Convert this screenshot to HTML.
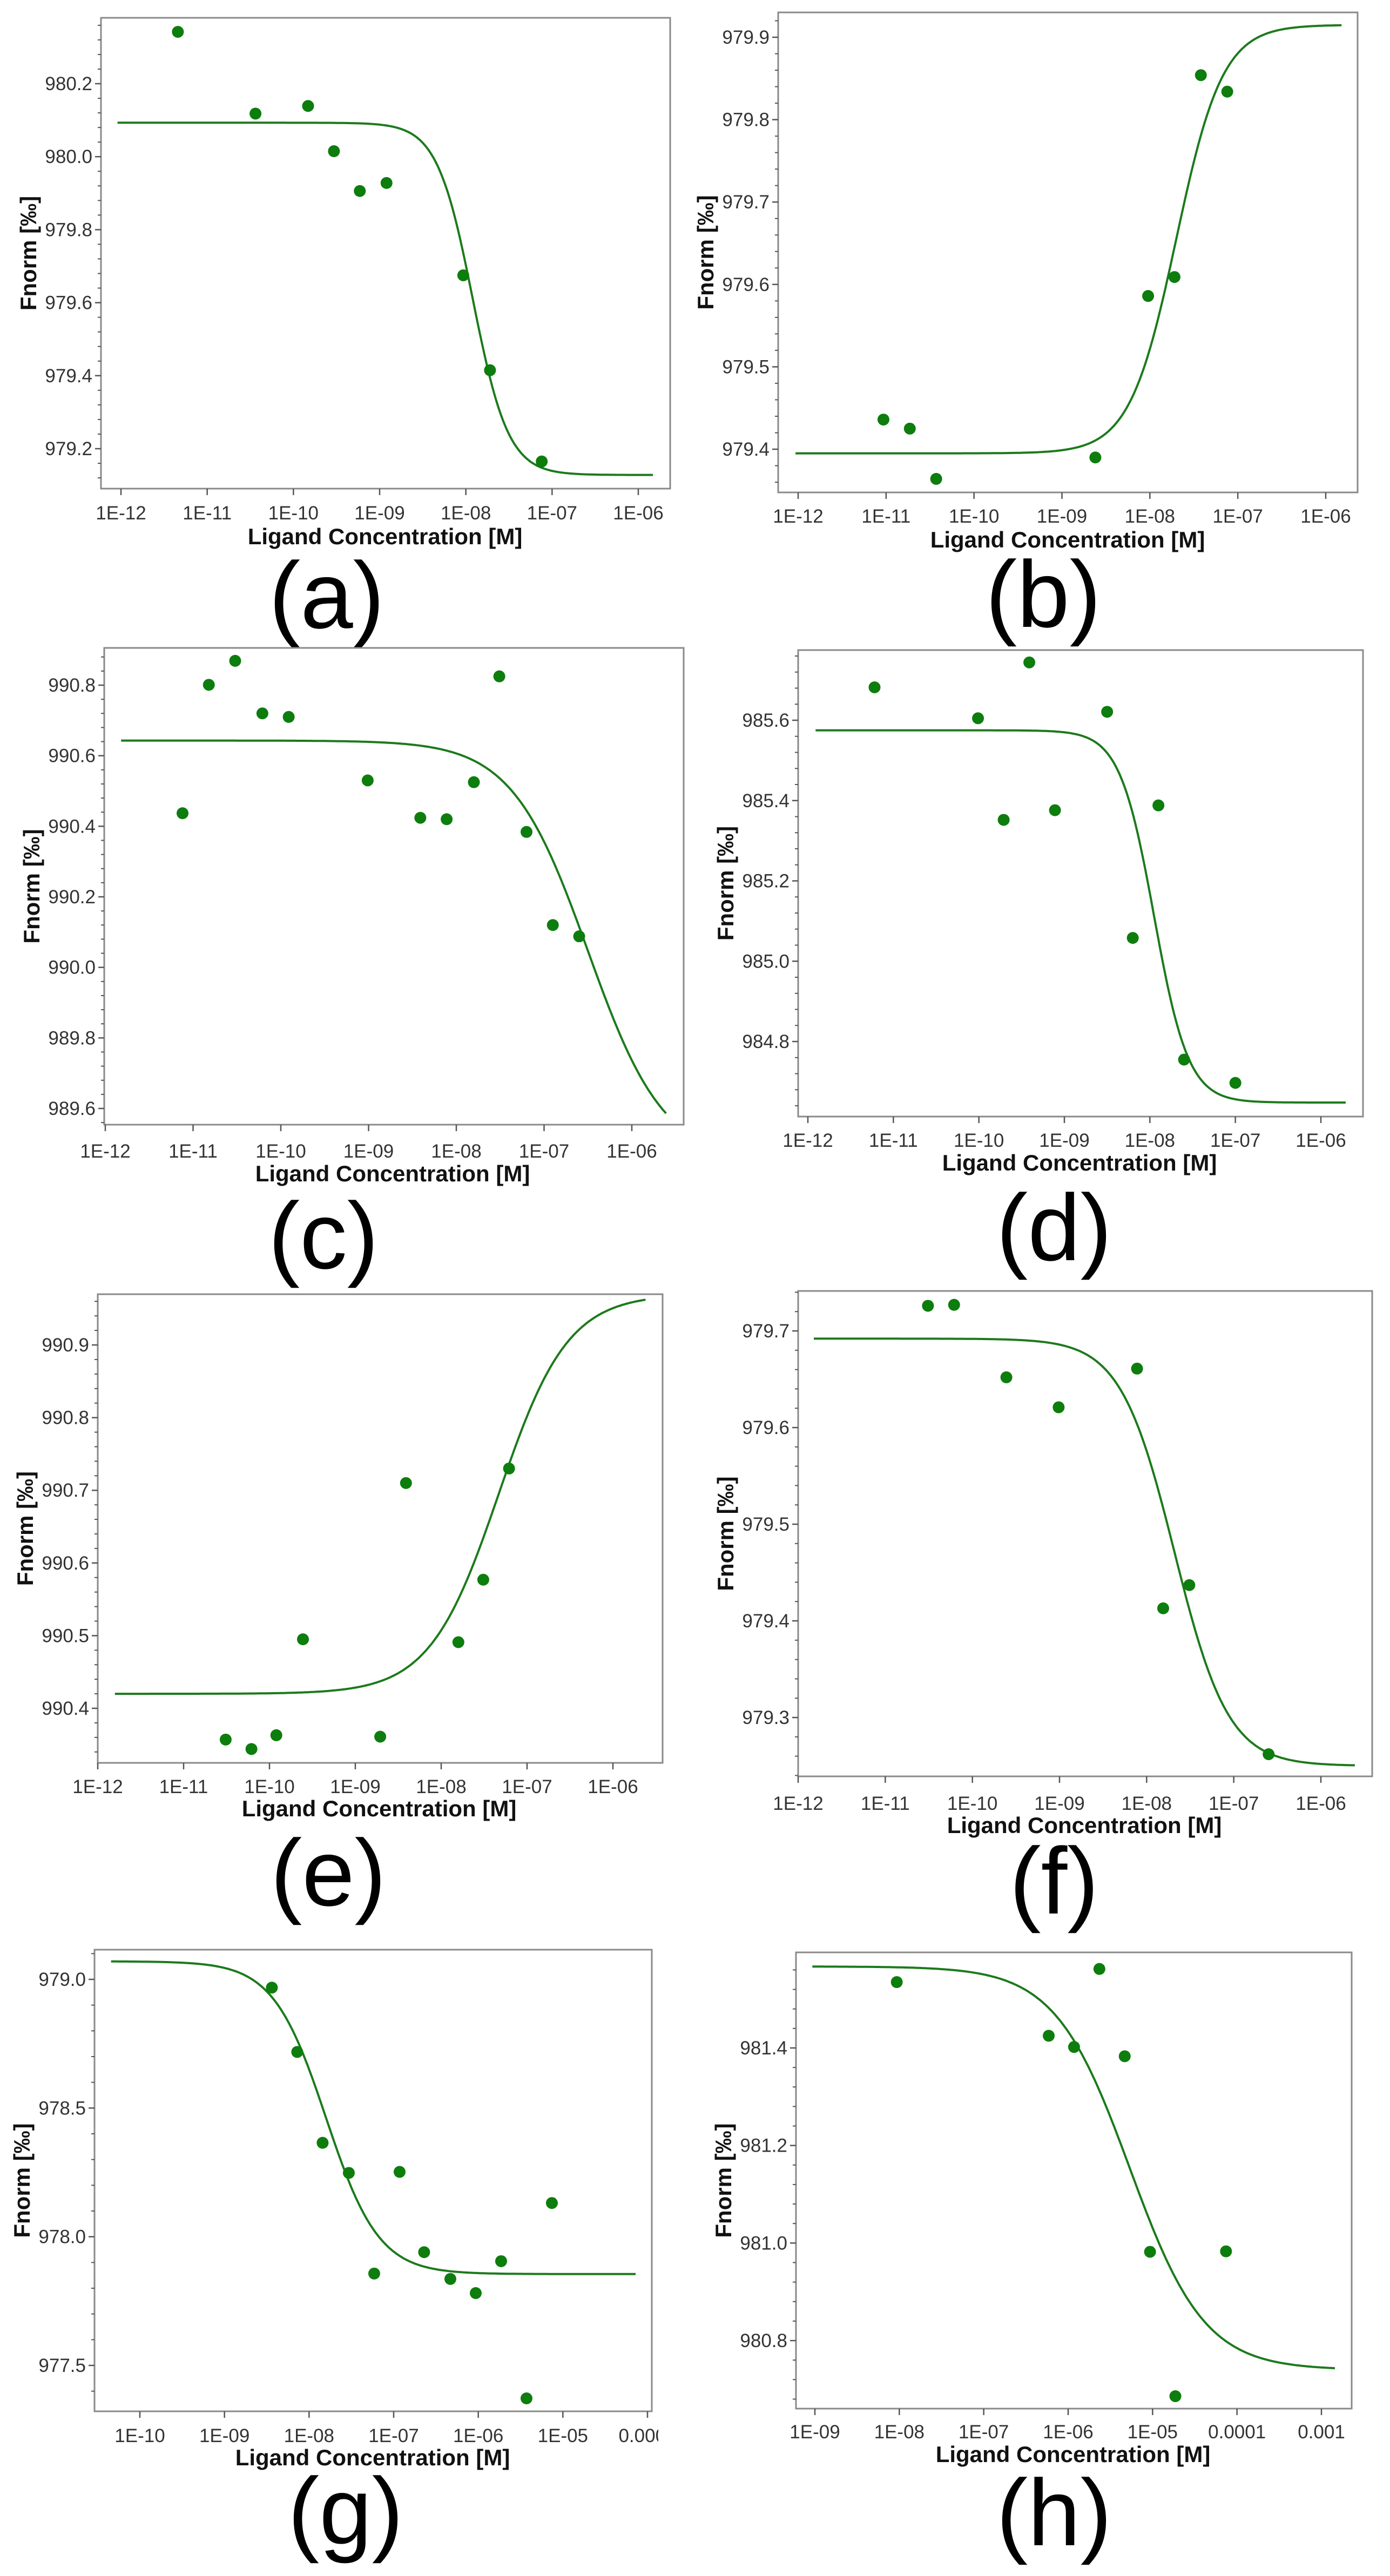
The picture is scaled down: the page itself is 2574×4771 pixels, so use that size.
<!DOCTYPE html>
<html><head><meta charset="utf-8">
<style>
html,body{margin:0;padding:0;background:#fff;}
svg{display:block;}
text{font-family:"Liberation Sans","DejaVu Sans",sans-serif;}
</style></head>
<body>
<svg id="fig" width="2574" height="4771" viewBox="0 0 2574 4771" xmlns="http://www.w3.org/2000/svg"></svg>
<script>
// ---- data ----
const aLogConc = [-11.34,-10.44,-9.83,-9.53,-9.23,-8.92,-8.03,-7.72,-7.12];
const aFnorm   = [980.342,980.118,980.139,980.015,979.906,979.928,979.675,979.415,979.165];
const aYTicks  = [979.2,979.4,979.6,979.8,980.0,980.2];
const aXLabels = ["1E-12","1E-11","1E-10","1E-09","1E-08","1E-07","1E-06"];
const aFit     = [980.093,979.128,-7.92,2.1,-12.04,-5.83];

const bLogConc = [-11.03,-10.73,-10.43,-8.62,-8.02,-7.72,-7.42,-7.12];
const bFnorm   = [979.436,979.425,979.364,979.390,979.586,979.609,979.854,979.834];
const bYTicks  = [979.4,979.5,979.6,979.7,979.8,979.9];
const bXLabels = ["1E-12","1E-11","1E-10","1E-09","1E-08","1E-07","1E-06"];
const bFit     = [979.395,979.915,-7.70,1.64,-12.03,-5.82];

const cLogConc = [-11.12,-10.82,-10.52,-10.21,-9.91,-9.01,-8.41,-8.11,-7.80,-7.51,-7.20,-6.90,-6.60];
const cFnorm   = [990.437,990.801,990.869,990.720,990.710,990.530,990.424,990.420,990.525,990.825,990.384,990.120,990.088];
const cYTicks  = [989.6,989.8,990.0,990.2,990.4,990.6,990.8];
const cXLabels = ["1E-12","1E-11","1E-10","1E-09","1E-08","1E-07","1E-06"];
const cFit     = [990.643,989.45,-6.5,1.0,-11.82,-5.61];

const dLogConc = [-11.22,-10.01,-9.71,-9.41,-9.11,-8.50,-8.20,-7.90,-7.60,-7.00];
const dFnorm   = [985.682,985.605,985.352,985.744,985.376,985.621,985.058,985.388,984.755,984.697];
const dYTicks  = [984.8,985.0,985.2,985.4,985.6];
const dXLabels = ["1E-12","1E-11","1E-10","1E-09","1E-08","1E-07","1E-06"];
const dFit     = [985.575,984.648,-7.95,2.16,-11.91,-5.71];

const eLogConc = [-10.51,-10.21,-9.92,-9.61,-8.71,-8.41,-7.80,-7.51,-7.21];
const eFnorm   = [990.357,990.344,990.363,990.495,990.361,990.710,990.491,990.577,990.730];
const eYTicks  = [990.4,990.5,990.6,990.7,990.8,990.9];
const eXLabels = ["1E-12","1E-11","1E-10","1E-09","1E-08","1E-07","1E-06"];
const eFit     = [990.42,990.97,-7.33,1.08,-11.80,-5.62];

const fLogConc = [-10.51,-10.21,-9.61,-9.01,-8.11,-7.81,-7.51,-6.60];
const fFnorm   = [979.726,979.727,979.652,979.621,979.661,979.413,979.437,979.262];
const fYTicks  = [979.3,979.4,979.5,979.6,979.7];
const fXLabels = ["1E-12","1E-11","1E-10","1E-09","1E-08","1E-07","1E-06"];
const fFit     = [979.692,979.25,-7.68,1.4,-11.82,-5.61];

const gLogConc = [-8.44,-8.14,-7.84,-7.53,-7.23,-6.93,-6.64,-6.33,-6.03,-5.73,-5.43,-5.13];
const gFnorm   = [978.968,978.718,978.365,978.248,977.857,978.252,977.940,977.836,977.781,977.905,977.372,978.131];
const gYTicks  = [977.5,978.0,978.5,979.0];
const gXLabels = ["1E-10","1E-09","1E-08","1E-07","1E-06","1E-05","0.0001"];
const gFit     = [979.07,977.855,-7.8,1.39,-10.34,-4.14];

const hLogConc = [-8.03,-6.23,-5.93,-5.63,-5.33,-5.03,-4.73,-4.13];
const hFnorm   = [981.535,981.425,981.402,981.562,981.383,980.982,980.686,980.983];
const hYTicks  = [980.8,981.0,981.2,981.4];
const hXLabels = ["1E-09","1E-08","1E-07","1E-06","1E-05","0.0001","0.001"];
const hFit     = [981.567,980.74,-5.27,0.98,-9.03,-2.84];

// ---- layout (pixel geometry, not data) ----
const panels = [
 {id:'a',lx:aLogConc,fy:aFnorm,yt:aYTicks,xl:aXLabels,fit:aFit,yMinor:5,x0dec:-12,
  fl:187,fr:1241,ft:33,fb:905,xa:224,xb:1182,ya:155,yb:831,tickY:962,ligX:713,ligY:1008,letX:605,letY:1163},
 {id:'b',lx:bLogConc,fy:bFnorm,yt:bYTicks,xl:bXLabels,fit:bFit,yMinor:5,x0dec:-12,
  fl:1441,fr:2514,ft:23,fb:912,xa:1478,xb:2455,ya:69,yb:832,tickY:968,ligX:1977,ligY:1014,letX:1932,letY:1161},
 {id:'c',lx:cLogConc,fy:cFnorm,yt:cYTicks,xl:cXLabels,fit:cFit,yMinor:5,x0dec:-12,
  fl:193,fr:1266,ft:1200,fb:2083,xa:195,xb:1170,ya:1269,yb:2053,tickY:2144,ligX:727,ligY:2188,letX:599,letY:2349},
 {id:'d',lx:dLogConc,fy:dFnorm,yt:dYTicks,xl:dXLabels,fit:dFit,yMinor:5,x0dec:-12,
  fl:1478,fr:2524,ft:1204,fb:2068,xa:1496,xb:2446,ya:1334,yb:1929,tickY:2124,ligX:1999,ligY:2168,letX:1952,letY:2334},
 {id:'e',lx:eLogConc,fy:eFnorm,yt:eYTicks,xl:eXLabels,fit:eFit,yMinor:5,x0dec:-12,
  fl:181,fr:1227,ft:2397,fb:3265,xa:181,xb:1135,ya:2491,yb:3164,tickY:3321,ligX:702,ligY:3364,letX:608,letY:3529},
 {id:'f',lx:fLogConc,fy:fFnorm,yt:fYTicks,xl:fXLabels,fit:fFit,yMinor:5,x0dec:-12,
  fl:1478,fr:2541,ft:2391,fb:3290,xa:1478,xb:2446,ya:2465,yb:3181,tickY:3352,ligX:2008,ligY:3395,letX:1952,letY:3544},
 {id:'g',lx:gLogConc,fy:gFnorm,yt:gYTicks,xl:gXLabels,fit:gFit,yMinor:5,x0dec:-10,
  fl:175,fr:1207,ft:3611,fb:4466,xa:259,xb:1199,ya:3666,yb:4381,tickY:4523,ligX:690,ligY:4566,letX:640,letY:4711,clip:1219},
 {id:'h',lx:hLogConc,fy:hFnorm,yt:hYTicks,xl:hXLabels,fit:hFit,yMinor:5,x0dec:-9,
  fl:1474,fr:2503,ft:3616,fb:4461,xa:1509,xb:2447,ya:3793,yb:4335,tickY:4516,ligX:1987,ligY:4560,letX:1952,letY:4714}
];

const NS='http://www.w3.org/2000/svg';
const svg=document.getElementById('fig');
function mk(tag,attrs,parent){const e=document.createElementNS(NS,tag);for(const k in attrs)e.setAttribute(k,attrs[k]);parent.appendChild(e);return e;}

panels.forEach(p=>{
  const g=mk('g',{},svg);
  
  
  const nDec=p.xl.length-1;
  const xs=v=>p.xa+(v-p.x0dec)*(p.xb-p.xa)/nDec;
  const y0=p.yt[0], y1=p.yt[p.yt.length-1];
  const ys=v=>p.yb+(v-y0)*(p.ya-p.yb)/(y1-y0);

  // frame
  const fr=mk('rect',{x:p.fl,y:p.ft,width:p.fr-p.fl,height:p.fb-p.ft,fill:'#fff',stroke:'#8a8a8a','stroke-width':3},g);
  
  

  // y ticks
  const step=(p.yt[1]-p.yt[0])/p.yMinor;
  const vTop=y0+(p.ft-p.yb)/(p.ya-p.yb)*(y1-y0);
  const vBot=y0+(p.fb-p.yb)/(p.ya-p.yb)*(y1-y0);
  for(let k=-40;k<80;k++){
    const v=y0+k*step;
    if(v>vTop+1e-9||v<vBot-1e-9)continue;
    const major=(k%p.yMinor===0);
    const yy=ys(v);
    mk('line',{x1:p.fl-(major?11:6),x2:p.fl,y1:yy,y2:yy,stroke:'#555','stroke-width':major?2.5:2},g);
  }
  p.yt.forEach(v=>{
    const t=mk('text',{x:p.fl-16,y:ys(v)+12,'text-anchor':'end','font-size':35,fill:'#333'},g);
    t.textContent=v.toFixed(1);
    
    
  });
  // x ticks
  p.xl.forEach((lab,i)=>{
    const xx=xs(p.x0dec+i);
    mk('line',{x1:xx,x2:xx,y1:p.fb,y2:p.fb+12,stroke:'#555','stroke-width':2.5},g);
    const t=mk('text',{x:xx,y:p.tickY,'text-anchor':'middle','font-size':35,fill:'#333'},g);
    t.textContent=lab;
    
    
    if(p.clip && xx+60>p.clip){
      const cid='clip-'+p.id;
      const cp=mk('clipPath',{id:cid},g);
      mk('rect',{x:0,y:0,width:p.clip,height:4771},cp);
      t.setAttribute('clip-path','url(#'+cid+')');
    }
  });
  // axis titles
  const xt=mk('text',{x:p.ligX,y:p.ligY,'text-anchor':'middle','font-size':42,'font-weight':'bold',fill:'#111'},g);
  xt.textContent='Ligand Concentration [M]';
  
  
  const cy=(p.ft+p.fb)/2, cx=p.fl-120;
  const yt=mk('text',{x:cx,y:cy,'text-anchor':'middle','font-size':42,'font-weight':'bold',fill:'#111',transform:'rotate(-90 '+cx+' '+cy+')'},g);
  yt.textContent='Fnorm [‰]';
  
  

  // fit curve
  const [A,B,e,n,xmin,xmax]=p.fit;
  let d='';
  for(let i=0;i<=300;i++){
    const lx=xmin+(xmax-xmin)*i/300;
    const v=A+(B-A)/(1+Math.pow(10,n*(e-lx)));
    d+=(i?'L':'M')+xs(lx).toFixed(1)+' '+ys(v).toFixed(1);
  }
  const c=mk('path',{d:d,fill:'none',stroke:'#1c7a1c','stroke-width':4},g);
  
  

  // points
  p.lx.forEach((lx,i)=>{
    const pt=mk('circle',{cx:xs(lx),cy:ys(p.fy[i]),r:11,fill:'#0d7d0d'},g);
    
    
  });

  // panel letter
  const L=mk('text',{x:p.letX,y:p.letY,'text-anchor':'middle','font-size':175,fill:'#000'},g);
  L.textContent='('+p.id+')';
  
  
});
</script>
</body></html>
